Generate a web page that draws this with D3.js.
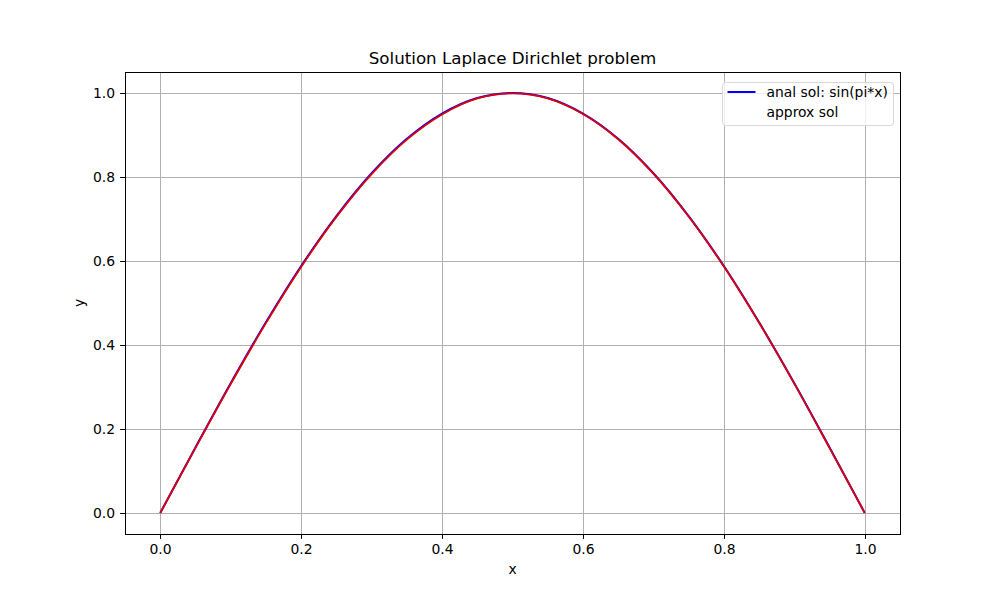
<!DOCTYPE html>
<html>
<head>
<meta charset="utf-8">
<script src="https://cdn.jsdelivr.net/npm/d3@7"></script>
<style>
  body { margin: 0; background: #fff; }
  text { font-family: "DejaVu Sans", sans-serif; }
</style>
</head>
<body>
<script>
'use strict';

// grid points and values
let xs = [0, 0.05, 0.1, 0.15, 0.2, 0.25, 0.3, 0.35, 0.4, 0.45, 0.5,
  0.55, 0.6, 0.65, 0.7, 0.75, 0.8, 0.85, 0.9, 0.95, 1];
let analSol = [0, 0.156, 0.309, 0.454, 0.588, 0.707, 0.809, 0.891, 0.951, 0.988, 1.0,
  0.988, 0.951, 0.891, 0.809, 0.707, 0.588, 0.454, 0.309, 0.156, 0];
let approxSol = [0, 0.155, 0.307, 0.452, 0.586, 0.705, 0.807, 0.889, 0.949, 0.987, 0.999,
  0.987, 0.950, 0.890, 0.808, 0.706, 0.587, 0.453, 0.308, 0.155, 0];
let xTicks = [0, 0.2, 0.4, 0.6, 0.8, 1.0];
let yTicks = [0, 0.2, 0.4, 0.6, 0.8, 1.0];
let legendLabels = ['anal sol: sin(pi*x)', 'approx sol'];

let svgWidth = 1000, svgHeight = 600;
let margin = { top: 72, right: 100, bottom: 66, left: 125 };
let x0 = margin.left, x1 = svgWidth - margin.right;
let y0 = svgHeight - margin.bottom, y1 = margin.top;

let xScale = d3.scaleLinear().domain([-0.05, 1.05]).range([x0, x1]);
let yScale = d3.scaleLinear().domain([-0.05, 1.05]).range([y0, y1]);
let snap = v => Math.round(v) + 0.5;

let chart = d3.select('body').append('svg')
  .attr('width', svgWidth)
  .attr('height', svgHeight);

// grid
chart.append('g').selectAll('line').data(xTicks).enter().append('line')
  .attr('x1', d => snap(xScale(d))).attr('x2', d => snap(xScale(d)))
  .attr('y1', y0).attr('y2', y1)
  .attr('stroke', '#b0b0b0').attr('stroke-width', 1);
chart.append('g').selectAll('line').data(yTicks).enter().append('line')
  .attr('y1', d => snap(yScale(d))).attr('y2', d => snap(yScale(d)))
  .attr('x1', x0).attr('x2', x1)
  .attr('stroke', '#b0b0b0').attr('stroke-width', 1);

// curves
let lineGen = (vals) => d3.line().curve(d3.curveCatmullRom.alpha(0.5))
  .x((d, i) => xScale(xs[i])).y(d => yScale(d))(vals);

chart.append('path').attr('d', lineGen(analSol))
  .attr('fill', 'none').attr('stroke', '#0000ff').attr('stroke-width', 2);
chart.append('path').attr('d', lineGen(approxSol))
  .attr('fill', 'none').attr('stroke', '#e00000').attr('stroke-width', 1.8);

// axes
let xAxis = chart.append('g')
  .attr('transform', `translate(0,${y0})`)
  .call(d3.axisBottom(xScale).tickValues(xTicks).tickFormat(d3.format('.1f')).tickSizeOuter(0).tickSize(4.9).tickPadding(5));
let yAxis = chart.append('g')
  .attr('transform', `translate(${x0},0)`)
  .call(d3.axisLeft(yScale).tickValues(yTicks).tickFormat(d3.format('.1f')).tickSizeOuter(0).tickSize(4.9).tickPadding(5));
[xAxis, yAxis].forEach(a => {
  a.select('.domain').remove();
  a.selectAll('text').attr('font-size', 13.9).attr('fill', '#000').style('font-family', '"DejaVu Sans", sans-serif');
  a.selectAll('line').attr('stroke', '#000').attr('stroke-width', 1);
});
xAxis.selectAll('.tick').attr('transform', d => `translate(${snap(xScale(d))},0)`);
yAxis.selectAll('.tick').attr('transform', d => `translate(0,${snap(yScale(d))})`);

// frame
chart.append('rect').attr('x', x0 + 0.5).attr('y', y1 + 0.5)
  .attr('width', x1 - x0).attr('height', y0 - y1)
  .attr('fill', 'none').attr('stroke', '#000').attr('stroke-width', 1);

// labels
chart.append('text').attr('x', (x0 + x1) / 2).attr('y', y1 - 8)
  .attr('text-anchor', 'middle').attr('font-size', 16.7).text('Solution Laplace Dirichlet problem');
chart.append('text').attr('x', (x0 + x1) / 2).attr('y', 574)
  .attr('text-anchor', 'middle').attr('font-size', 13.9).text('x');
chart.append('text').attr('transform', `translate(84,${(y0 + y1) / 2}) rotate(-90)`)
  .attr('text-anchor', 'middle').attr('font-size', 13.9).text('y');

// legend
let legend = chart.append('g').attr('transform', `translate(722.5,82.5)`);
legend.append('rect').attr('width', 171).attr('height', 43).attr('rx', 3)
  .attr('fill', '#fff').attr('fill-opacity', 0.8)
  .attr('stroke', '#d9d9d9').attr('stroke-width', 1);
let legendColors = ['#0000ff', 'none'];
legendLabels.forEach((lab, i) => {
  let yy = 9.5 + i * 19.5;
  legend.append('line').attr('x1', 5).attr('x2', 33).attr('y1', yy).attr('y2', yy)
    .attr('stroke', legendColors[i]).attr('stroke-width', 2);
  legend.append('text').attr('x', 44).attr('y', yy + 5).attr('font-size', 13.9).text(lab);
});
</script>
</body>
</html>
